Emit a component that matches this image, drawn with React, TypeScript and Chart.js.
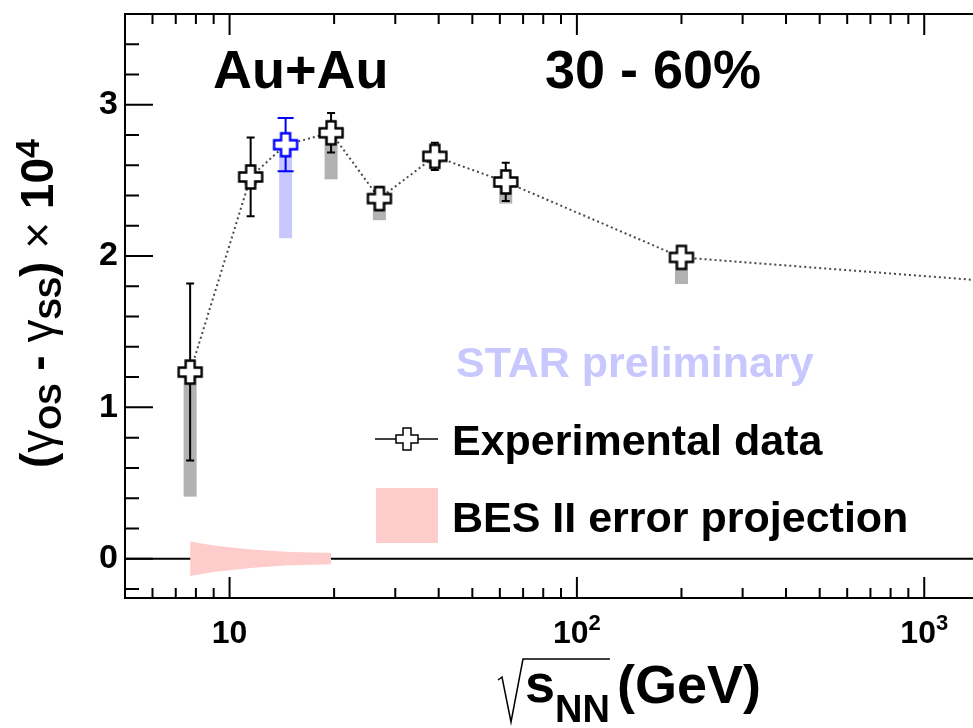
import { useEffect, useRef } from 'react';
import { Chart, registerables } from 'chart.js';

Chart.register(...registerables);

// Collision energies (GeV) and the measured correlator difference (x 10^4)
const energies = [7.7, 11.5, 14.5, 19.6, 27, 39, 62.4, 200, 2760];
const deltaGamma = [1.233, 2.523, 2.736, 2.815, 2.38, 2.659, 2.49, 1.991, 1.79];
const statErr = [0.585, 0.26, 0.176, 0.13, 0.075, 0.09, 0.126, 0.05, 0.05];
// lower edge of the systematic band (box spans from value down to this)
const sysLow = [0.41, 2.47, 2.118, 2.507, 2.237, 2.61, 2.347, 1.815, 1.74];
const highlighted = [false, false, true, false, false, false, false, false, false];

// BES II projected uncertainty around zero
const besEnergies = [7.7, 9.1, 11.5, 14.5, 19.6];
const besHalfWidth = [0.114, 0.086, 0.061, 0.045, 0.037];

const xTickValues = [10, 100, 1000];
const xTickExponents = ['', '2', '3'];
const yTickValues = [0, 1, 2, 3];

const FAMILY = '"Liberation Sans", Arial, Helvetica, sans-serif';
const bold = (px: number) => `bold ${px}px ${FAMILY}`;
const regular = (px: number) => `${px}px ${FAMILY}`;

function makeCross(stroke: string, lw: number, h: number, a: number): HTMLCanvasElement {
  const c = document.createElement('canvas');
  c.width = 28;
  c.height = 28;
  const g = c.getContext('2d')!;
  const m = 14;
  g.beginPath();
  g.moveTo(m - a, m - h);
  g.lineTo(m + a, m - h);
  g.lineTo(m + a, m - a);
  g.lineTo(m + h, m - a);
  g.lineTo(m + h, m + a);
  g.lineTo(m + a, m + a);
  g.lineTo(m + a, m + h);
  g.lineTo(m - a, m + h);
  g.lineTo(m - a, m + a);
  g.lineTo(m - h, m + a);
  g.lineTo(m - h, m - a);
  g.lineTo(m - a, m - a);
  g.closePath();
  g.fillStyle = '#ffffff';
  g.fill();
  g.lineWidth = lw;
  g.strokeStyle = stroke;
  g.stroke();
  return c;
}

export default function App() {
  const canvasRef = useRef<HTMLCanvasElement | null>(null);

  useEffect(() => {
    const canvas = canvasRef.current;
    if (!canvas) return;

    const blackCross = makeCross('#000000', 2.4, 11.5, 4.5);
    const blueCross = makeCross('#0000ff', 2.4, 11.5, 4.5);
    const legendCross = makeCross('#000000', 1.5, 11, 4);

    const points = energies.map((e, i) => ({ x: e, y: deltaGamma[i] }));

    const decorations = {
      id: 'decorations',
      beforeDatasetsDraw(chart: any) {
        const { ctx, chartArea: a, scales } = chart;
        const x = scales.x;
        const y = scales.y;
        ctx.save();
        // zero reference line
        const y0 = y.getPixelForValue(0);
        ctx.strokeStyle = '#000';
        ctx.lineWidth = 2;
        ctx.beginPath();
        ctx.moveTo(a.left, y0);
        ctx.lineTo(a.right, y0);
        ctx.stroke();
        // systematic boxes
        energies.forEach((e, i) => {
          if (sysLow[i] == null) return;
          const px = x.getPixelForValue(e);
          const top = y.getPixelForValue(deltaGamma[i]);
          const bot = y.getPixelForValue(sysLow[i]);
          ctx.fillStyle = highlighted[i] ? 'rgb(200,200,255)' : 'rgb(178,178,178)';
          ctx.fillRect(px - 6.5, top, 13, bot - top);
        });
        ctx.restore();
      },
      afterDatasetDraw(chart: any, args: any) {
        if (args.index !== 1) return;
        const { ctx, scales } = chart;
        const x = scales.x;
        const y = scales.y;
        ctx.save();
        ctx.lineWidth = 2;
        energies.forEach((e, i) => {
          const px = x.getPixelForValue(e);
          const hi = y.getPixelForValue(deltaGamma[i] + statErr[i]);
          const lo = y.getPixelForValue(deltaGamma[i] - statErr[i]);
          const cap = highlighted[i] ? 8 : 4;
          ctx.strokeStyle = highlighted[i] ? '#0000ff' : '#000000';
          ctx.beginPath();
          ctx.moveTo(px, hi);
          ctx.lineTo(px, lo);
          ctx.moveTo(px - cap, hi);
          ctx.lineTo(px + cap, hi);
          ctx.moveTo(px - cap, lo);
          ctx.lineTo(px + cap, lo);
          ctx.stroke();
        });
        ctx.restore();
      },
      afterDraw(chart: any) {
        const { ctx, chartArea: a, scales } = chart;
        const x = scales.x;
        const y = scales.y;
        ctx.save();

        // frame
        ctx.strokeStyle = '#000';
        ctx.lineWidth = 2;
        ctx.strokeRect(a.left, a.top, a.right - a.left, a.bottom - a.top);

        // x ticks (log decades) on bottom and top
        ctx.beginPath();
        for (let d = 0; d <= 3; d++) {
          for (let m = 1; m <= 9; m++) {
            const v = m * Math.pow(10, d);
            if (v <= x.min || v >= x.max) continue;
            const px = x.getPixelForValue(v);
            const len = m === 1 ? 21 : 10;
            ctx.moveTo(px, a.bottom);
            ctx.lineTo(px, a.bottom - len);
            ctx.moveTo(px, a.top);
            ctx.lineTo(px, a.top + len);
          }
        }
        // y ticks every 0.2 on the left axis
        for (let k = -5; k <= 20; k++) {
          const v = k * 0.2;
          if (v <= y.min || v >= y.max) continue;
          const py = y.getPixelForValue(v);
          const len = k % 5 === 0 ? 28 : 14;
          ctx.moveTo(a.left, py);
          ctx.lineTo(a.left + len, py);
        }
        ctx.stroke();

        ctx.fillStyle = '#000';
        ctx.textBaseline = 'alphabetic';

        // x tick labels: powers of ten with raised exponent
        xTickValues.forEach((v, i) => {
          const px = x.getPixelForValue(v);
          ctx.font = bold(32);
          const bw = ctx.measureText('10').width;
          const exp = xTickExponents[i];
          ctx.font = bold(22);
          const ew = exp ? ctx.measureText(exp).width : 0;
          const left = px - (bw + ew) / 2;
          ctx.textAlign = 'left';
          ctx.font = bold(32);
          ctx.fillText('10', left, 643);
          if (exp) {
            ctx.font = bold(22);
            ctx.fillText(exp, left + bw, 630);
          }
        });

        ctx.textAlign = 'left';

        // header labels
        ctx.font = bold(54);
        ctx.fillText('Au+Au', 213, 88);
        ctx.fillText('30 - 60%', 545, 88);

        // watermark
        ctx.font = bold(43);
        ctx.fillStyle = 'rgb(200,200,255)';
        ctx.fillText('STAR preliminary', 456, 377);

        // legend
        ctx.fillStyle = '#000';
        ctx.strokeStyle = '#000';
        ctx.lineWidth = 1.5;
        ctx.beginPath();
        ctx.moveTo(375, 439);
        ctx.lineTo(438, 439);
        ctx.stroke();
        ctx.drawImage(legendCross, 407 - 14, 439 - 14);
        ctx.font = bold(43);
        ctx.fillText('Experimental data', 452, 455);
        ctx.fillStyle = '#ffcccc';
        ctx.fillRect(376, 488, 62, 55);
        ctx.fillStyle = '#000';
        ctx.fillText('BES II error projection', 452, 532);

        // y-axis title, rotated
        ctx.save();
        ctx.translate(53, 468);
        ctx.rotate(-Math.PI / 2);
        let cx = 0;
        const seg = (text: string, font: string, dy: number) => {
          ctx.font = font;
          ctx.fillText(text, cx, dy);
          cx += ctx.measureText(text).width;
        };
        seg('(', bold(46), 0);
        seg('γ', regular(46), 0);
        seg('OS', bold(32), 8);
        seg(' - ', bold(46), 0);
        seg('γ', regular(46), 0);
        seg('SS', bold(32), 8);
        seg(')', bold(46), 0);
        seg(' × ', regular(46), 0);
        seg('10', bold(46), 0);
        seg('4', bold(34), -14);
        ctx.restore();

        // x-axis title with radical sign
        const sx = 525;
        ctx.font = bold(54);
        ctx.fillText('s', sx, 702);
        const sw = ctx.measureText('s').width;
        ctx.font = bold(38);
        ctx.fillText('NN', sx + sw, 722);
        const nw = ctx.measureText('NN').width;
        const barEnd = sx + sw + nw;
        ctx.font = bold(54);
        ctx.fillText('(GeV)', barEnd + 7, 703);
        ctx.lineWidth = 1.5;
        ctx.beginPath();
        ctx.moveTo(498, 680);
        ctx.lineTo(502, 677);
        ctx.lineTo(511, 722);
        ctx.lineTo(523, 659);
        ctx.lineTo(barEnd, 659);
        ctx.stroke();

        ctx.restore();
      },
    };

    const chart = new Chart(canvas, {
      type: 'line',
      data: {
        datasets: [
          {
            label: 'Experimental data',
            data: points,
            showLine: false,
            pointStyle: (c: any) => (highlighted[c.dataIndex] ? blueCross : blackCross),
            pointRadius: 12,
            order: 0,
          },
          {
            label: 'trend',
            data: points,
            showLine: true,
            borderColor: '#4a4a4a',
            borderWidth: 2,
            borderDash: [2, 3],
            pointRadius: 0,
            tension: 0,
            fill: false,
            order: 1,
          },
          {
            label: 'BES II error projection',
            data: besEnergies.map((e, i) => ({ x: e, y: besHalfWidth[i] })),
            borderWidth: 0,
            borderColor: 'rgba(0,0,0,0)',
            backgroundColor: '#ffcccc',
            pointRadius: 0,
            tension: 0,
            fill: '+1',
            order: 2,
          },
          {
            label: 'BES II lower',
            data: besEnergies.map((e, i) => ({ x: e, y: -besHalfWidth[i] })),
            borderWidth: 0,
            borderColor: 'rgba(0,0,0,0)',
            pointRadius: 0,
            tension: 0,
            fill: false,
            order: 3,
          },
        ],
      } as any,
      options: {
        responsive: false,
        animation: false,
        devicePixelRatio: 1,
        events: [],
        layout: { padding: { top: 14, right: 15, left: 0, bottom: 0 } },
        plugins: {
          legend: { display: false },
          tooltip: { enabled: false },
        },
        scales: {
          x: {
            type: 'logarithmic',
            min: 5,
            max: 1400,
            afterBuildTicks: (s: any) => {
              s.ticks = xTickValues.map((v) => ({ value: v }));
            },
            afterFit: (s: any) => {
              s.height = 130;
              s.paddingLeft = 0;
              s.paddingRight = 0;
            },
            ticks: { display: false },
            grid: { display: false, drawTicks: false },
            border: { display: false },
          },
          y: {
            type: 'linear',
            min: -0.26,
            max: 3.6,
            afterBuildTicks: (s: any) => {
              s.ticks = yTickValues.map((v) => ({ value: v }));
            },
            afterFit: (s: any) => {
              s.width = 125;
              s.paddingTop = 0;
              s.paddingBottom = 0;
            },
            ticks: {
              callback: (v: any) => String(v),
              font: { family: FAMILY, size: 34, weight: 'bold' },
              color: '#000',
              padding: 7,
            },
            grid: { display: false, drawTicks: false },
            border: { display: false },
          },
        },
      } as any,
      plugins: [decorations],
    });

    return () => {
      chart.destroy();
    };
  }, []);

  return (
    <div
      style={{
        position: 'fixed',
        left: 0,
        top: 0,
        width: 973,
        height: 728,
        overflow: 'hidden',
        background: '#ffffff',
      }}
    >
      <canvas ref={canvasRef} width={990} height={728} style={{ display: 'block', width: 990, height: 728 }} />
    </div>
  );
}
